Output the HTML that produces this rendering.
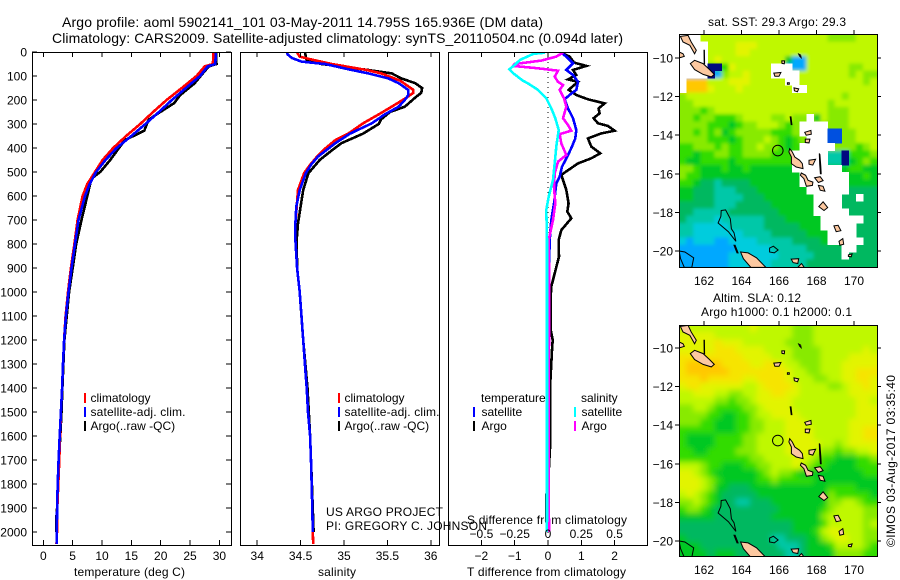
<!DOCTYPE html>
<html>
<head>
<meta charset="utf-8">
<title>Argo profile</title>
<style>
html,body{margin:0;padding:0;background:#fff;}
svg{display:block;font-family:"Liberation Sans",sans-serif;}
text{fill:#000;font-size:12px;}
</style>
</head>
<body>
<svg id="chart" xmlns="http://www.w3.org/2000/svg" width="900" height="580" viewBox="0 0 900 580">
  <defs>
    <clipPath id="clip-t"><rect x="33" y="53" width="198" height="492"/></clipPath>
    <clipPath id="clip-s"><rect x="241" y="53" width="198" height="492"/></clipPath>
    <clipPath id="clip-d"><rect x="449" y="53" width="198" height="492"/></clipPath>
    <clipPath id="clip-m1"><rect x="679" y="34" width="198" height="233"/></clipPath>
    <clipPath id="clip-m2"><rect x="679" y="325" width="198" height="231"/></clipPath>
    <filter id="blur-sst" filterUnits="userSpaceOnUse" x="640" y="0" width="260" height="300"><feGaussianBlur stdDeviation="1.8"/></filter>
    <filter id="blur-sla" filterUnits="userSpaceOnUse" x="640" y="290" width="260" height="290"><feGaussianBlur stdDeviation="3"/></filter>
  </defs>
  <text x="62" y="27" style="font-size:14px" textLength="481">Argo profile: aoml 5902141_101 03-May-2011 14.795S 165.936E (DM data)</text>
  <text x="52" y="43" style="font-size:14px" textLength="571">Climatology: CARS2009. Satellite-adjusted climatology: synTS_20110504.nc (0.094d later)</text>
  <text x="74" y="576" textLength="111">temperature (deg C)</text>
  <text x="318" y="576" textLength="38">salinity</text>
  <text x="467" y="576" textLength="159">T difference from climatology</text>
  <text x="467" y="524" textLength="160">S difference from climatology</text>
  <text x="326" y="516" textLength="117">US ARGO PROJECT</text>
  <text x="326" y="530" textLength="161">PI: GREGORY C. JOHNSON</text>
  <text x="708" y="26" textLength="138">sat. SST: 29.3 Argo: 29.3</text>
  <text x="713" y="302" textLength="88">Altim. SLA: 0.12</text>
  <text x="701" y="316" textLength="151">Argo h1000: 0.1 h2000: 0.1</text>
  <text transform="translate(895,547) rotate(-90)" textLength="172">©IMOS 03-Aug-2017 03:35:40</text>
  <g id="layer"></g>
</svg>
<script>
// ---------- profile data ----------
const tempDepths = [0,50,60,100,150,200,250,300,350,400,450,500,550,600,700,800,900,1000,1100,1200,1300,1400,1500,1600,1700,1800,1900,2000,2050];
const tempClim = [29,28.9,27.5,26.1,23.6,21,18.7,16.5,14.1,11.9,10.1,8.8,7.5,6.7,5.85,5.3,4.7,4.2,3.8,3.55,3.35,3.2,3.0,2.85,2.73,2.56,2.39,2.33,2.25];
const tempSat = [29.4,29.3,28,26.7,24.3,21.9,19.7,17.4,15,12.5,10.6,9,7.9,7.1,6,5.4,4.8,4.3,3.85,3.55,3.35,3.2,3,2.8,2.6,2.45,2.35,2.3,2.3];
const argoTempDepths = [0,50,60,100,130,150,180,213,255,283,328,367,400,450,500,528,600,700,800,900,1000,1200,1400,1500,1600,1700,1800,1900,1950,2000];
const argoTemp = [29.4,29.5,28.2,26.8,25.8,24.8,23.3,22.3,19.6,17.9,17.2,13.9,12.9,11.4,9.7,8.2,7.5,6.5,5.6,5,4.4,3.6,3.25,3.1,2.9,2.65,2.5,2.35,2.2,2.25];

const salDepths = [0,19,30,50,75,89,120,158,170,190,228,260,297,340,367,400,436,470,505,575,644,714,783,900,1000,1100,1200,1300,1400,1500,1600,1700,1900,2000,2050];
const salClim = [34.455,34.49,34.61,34.86,35.26,35.43,35.65,35.80,35.80,35.72,35.55,35.40,35.22,35.05,34.90,34.79,34.69,34.61,34.54,34.47,34.455,34.44,34.44,34.46,34.49,34.51,34.53,34.55,34.57,34.585,34.61,34.62,34.635,34.64,34.645];
const argoSalDepths = [0,19,35,50,75,89,110,130,150,170,190,228,250,280,300,340,380,410,450,505,575,644,714,783,900,1000,1200,1400,1600,1800,2000];
const argoSal = [34.55,34.56,34.57,34.74,35.28,35.55,35.66,35.82,35.90,35.89,35.82,35.70,35.53,35.43,35.40,35.22,34.97,34.86,34.72,34.59,34.53,34.50,34.47,34.455,34.46,34.49,34.53,34.58,34.61,34.63,34.65];
const satSalDepths = [0,10,25,40,50,75,89,110,130,158,180,200,228,260,297,340,380,436,470,505,575,644,714,783,900,1000,1100,1200,1300,1400,1500,1600,1700,1900,2000];
const satSal = [34.34,34.35,34.40,34.51,34.78,35.09,35.28,35.51,35.63,35.74,35.74,35.70,35.63,35.47,35.32,35.07,34.90,34.70,34.62,34.56,34.49,34.45,34.44,34.44,34.46,34.49,34.51,34.53,34.55,34.57,34.585,34.61,34.62,34.635,34.64];

const dArgoTDepths = [3,19,44,58,75,96,114,124,158,179,197,214,235,256,276,297,308,328,339,360,394,422,443,464,512,575,631,665,693,742,783,853,922,978,1019,1158,1200,1242,1400,1650,1750,1850,1950,2000];
const dArgoT = [.40,.65,.78,1.15,.75,.85,.60,.90,.62,.85,1.20,1.70,1.52,1.55,1.37,1.50,1.80,2.00,1.60,1.20,1.30,1.57,1.30,.90,.40,.55,.62,.58,.70,.40,.32,.33,.20,.10,.08,.08,.14,.12,.06,.06,.02,-.05,-.05,0];
const dSatTDepths = [3,19,47,75,96,124,158,179,197,235,276,325,360,394,436,478,519,547,631,700,783,900,1000,1200,1400,2000];
const dSatT = [.40,.55,.75,.55,.75,.90,.85,.65,.50,.60,.75,.85,.82,.72,.58,.42,.35,.25,.18,.10,.05,.03,.02,.02,0,0];
const dSatSDepths = [3,8,33,54,72,89,119,131,158,193,235,276,325,394,464,533,603,658,728,783,1400,1950,2000];
const dSatS = [-.025,-.11,-.21,-.25,-.29,-.26,-.19,-.15,-.075,-.0125,.025,.055,.08,.0625,.05,.0375,.005,-.0125,-.01,-.0075,-.0075,-.0075,-.01];
const dArgoSDepths = [3,19,36,50,58,68,78,103,124,138,158,193,228,276,304,328,342,381,429,457,506,561,631,700,783,1000,1400,1900,2000];
const dArgoS = [.1125,.0625,-.05,-.25,-.2625,-.075,.075,.05,.075,.1125,.0875,.12,.1375,.1125,.15,.175,.0875,.1,.1375,.075,.05,.045,.055,.0375,.005,.01,.005,.005,.01];

// ---------- tick labels ----------
const depthTicks = [0,100,200,300,400,500,600,700,800,900,1000,1100,1200,1300,1400,1500,1600,1700,1800,1900,2000];
const tempTicks = [0,5,10,15,20,25,30];
const salTicks = [34,34.5,35,35.5,36];
const dTTicks = [-2,-1,0,1,2];
const dSTicks = [-0.5,-0.25,0,0.25,0.5];
const lonTicks = [162,164,166,168,170];
const latTicks = [-10,-12,-14,-16,-18,-20];

// ---------- map data (colour class per cell) ----------
const sstRows = [
"wwwjjjjjjjjjjjjjjjjjjiiiijjj",
"wwwwjjjjkkkjjjjjjjjjjjjjjjjj",
"wwwwjjjjkkjjjjjjjjjjjjjjjjjj",
"wwwwjkjjjjjjjjjgccjjjjjjjjjj",
"wwwwnnhkjjjjjwwwccjjjjjjiijj",
"wwwwncijjkjjjwwwwjjjjjjjijii",
"wmmmjjjkkkjjjjjwwjjjjjjjjjij",
"wmmmkjjjkjjjjjjjwwjjjjjjjjjj",
"ijjjjjjjjjjjjjjjjjjjjjjijjjj",
"iijjjjjjjjjjjjjjjjjjjijjjjjj",
"iiihijjjjjjjjjjjjjjjjiiijjjj",
"iihiihhhijjjjiijiiwgjiiijjjj",
"iiiihhhghiijjjihiwwwwiiijjjj",
"iihihighiiiiihhhiwwwwbbiijjj",
"iiiihhhghiiijihghiwwwbbiijjj",
"hhiiihihhiijiihghwwwwwiiihij",
"hhghhiihhiiiihhhwwwwweenhhhi",
"hgghhhhghhhhhhhhwwwwweenghih",
"iihggghgghggggggwwwwwwwghhgg",
"ihhggggggggggggggwwwwwwwgghg",
"hhgffeffffgggggggwwwwwwwgggg",
"ggfffeeefffgggggggwwwwwwffff",
"ggfffeeeefffgggggggwwwwffwff",
"fffffeeefffffggggggwwwwfffff",
"ffeeeeefffffffgggggwwwwwffff",
"feeeedeeeeeefffgggggwwwwwwff",
"eedddddeeeeefffffgggwwwwwfff",
"eedddddddeeeefffffgggwwwwfff",
"dcdddccddddeeeeeffffgwwwwwff",
"ccccccccdddddeeeeefffffwwfff",
"cccccccdddddddeeeeeffffwffff",
"cccccccddddddeeeeeffffffffff"
];
const slaRows = [
"jjjjjjjjjjkjjjjjiiijjjjjjjjj",
"kkkkkjjjjjjjjjjjiiijjjjjjjjj",
"kkkkklkkkjjjjjjiiiijjjjjjjjj",
"kkkkklllkkkkjjjjiiiijjjjjjkj",
"lllllllllkkkkjjjiiiijjjjkkkk",
"lmmmmmllllkkllkjjiiijjjkkkkk",
"lmmmmmmllllllllkjjiijjjkklll",
"lllmlllllkkllllkjjjiijjkkllk",
"kllkkkkkkjjkllllkjjjjiijkklk",
"jjkkkjjiijjkkllkkjjjjjjjkkkk",
"jjjjjiihiijkkkkkjjjjjjjjjkkj",
"iijjihhhhiijkkkkjjjjjjjjjkkk",
"iiiihhgghhijjkkkkjjjjjjjjkkk",
"iiihhggghhiijjjkkkjjjjjjkkkk",
"hhhhhggghhiijjjkkkkjjjjjkkll",
"hgggghhhhiijjjjkkkkjjjjjkkll",
"hgggghhhhiijjjjkkkkkjjijkkkk",
"hhgghhhhiiijjjjkkkkjiihiijjk",
"hhhhhhhhhhiijjjjkkjihhggghhi",
"jjjihhggghhiijjjkjihhgggghhh",
"kkjihgggggghijiihggggggggghh",
"kkkjihggggghhihhhhhggggggggg",
"kkkjiggfffggggggggggghhhhggg",
"jkjihgfffffggggggggggihhhhhg",
"iijihgffeefffggggggggiijjihh",
"hiihgfffffffffgggggghijjjjii",
"gggggffffffffgggggggijjjjjii",
"ffffffffffffffffgggghjjjjjij",
"ffffffffffffffffggghjkkjjjii",
"gffffffffffffeefffggijkkjjii",
"gggfffffffffffeeefggghjjjjih",
"ggggfgggfffffffeefggggiiiihh"
];
const cellColors = {n:"#000a80",b:"#0050e0",c:"#00a8ff",d:"#00ccdd",e:"#00c8a8",f:"#00b860",g:"#00c820",h:"#30dc00",i:"#88ea00",j:"#bff800",k:"#e2f400",l:"#f6e400",m:"#ffc800",w:"#ffffff"};
const crispClasses = "wnb";

// island outlines: lon, lat pairs
const landShapes = [
[160.74,-8.88,161.15,-8.83,161.32,-9.17,161.59,-9.6,161.5,-9.78,161.24,-9.34,160.88,-9.17],
[160.67,-9.69,160.88,-9.78,160.95,-9.91,160.74,-9.98,160.67,-9.95],
[161.27,-10.29,161.5,-10.12,161.95,-10.29,162.3,-10.6,162.55,-10.85,162.39,-10.98,161.95,-10.85,161.5,-10.6],
[162,-9.6,162.02,-9.6,162.03,-10.3,162.01,-10.3],
[166.57,-14.7,166.71,-14.87,166.84,-15.13,167.1,-15.3,167.24,-15.47,167.28,-15.73,166.92,-15.65,166.66,-15.47,166.66,-15.13,166.53,-14.87],
[167.19,-15.96,167.42,-16.08,167.55,-16.34,167.81,-16.43,167.78,-16.6,167.46,-16.65,167.33,-16.25,167.14,-16.08],
[168.15,-14.95,168.18,-15.0,168.23,-15.6,168.25,-16,168.21,-16,168.17,-15.5],
[167.6,-15.3,167.95,-15.25,167.8,-15.55,167.6,-15.5],
[167.9,-16.2,168.2,-16.15,168.35,-16.35,168.1,-16.45],
[168.1,-16.6,168.35,-16.65,168.45,-16.9,168.2,-16.85],
[168.12,-17.7,168.35,-17.45,168.6,-17.75,168.4,-17.9],
[168.93,-18.7,169.15,-18.67,169.3,-18.95,169.05,-19.0],
[169.2,-19.5,169.4,-19.36,169.45,-19.65,169.25,-19.7],
[169.7,-20.2,169.9,-20.15,169.85,-20.3,169.7,-20.28],
[167.37,-13.85,167.7,-13.75,167.72,-13.95,167.45,-14.0],
[167.4,-14.2,167.65,-14.2,167.6,-14.4,167.4,-14.38],
[166.6,-13.05,166.64,-13.05,166.69,-13.45,166.65,-13.45],
[165.72,-10.78,166.1,-10.75,166.0,-10.95,165.78,-10.95],
[166.15,-10.15,166.3,-10.15,166.28,-10.3,166.16,-10.28],
[166.8,-11.55,167.05,-11.6,166.98,-11.75,166.82,-11.7],
[166.45,-11.28,166.55,-11.28,166.55,-11.36,166.45,-11.36],
[167.05,-9.8,167.15,-9.85,167.18,-9.98,167.1,-9.9],
[163.6,-19.7,163.66,-19.7,163.82,-20.1,163.76,-20.1],
[163.95,-20.05,164.35,-20.1,164.8,-20.35,165.3,-20.85,164.5,-20.85,164.1,-20.4],
[166.65,-20.42,167.05,-20.4,167.0,-20.65,166.75,-20.6],
[167.0,-20.85,167.2,-20.65,167.35,-20.85]
];
const reefShapes = [
[162.92,-17.9,163.15,-17.87,163.4,-18.33,163.46,-18.85,163.6,-19.05,163.7,-19.5,163.3,-19.0,162.75,-18.55,162.9,-18.2],
[165.5,-19.85,165.7,-19.75,165.95,-19.95,165.75,-20.1,165.5,-20.05],
[160.67,-20.0,160.98,-20.05,161.45,-20.35,161.35,-20.85,160.95,-20.85,160.75,-20.4]
];
const argoLon = 165.936;
const argoLat = -14.795;

// ---------- axis functions ----------
const NS = "http://www.w3.org/2000/svg";
const layer = document.getElementById("layer");
function depthY(d){ return 52 + 0.24 * d; }
function tempX(v){ return 43.3 + 5.87 * v; }
function salX(v){ return 344 + 86.8 * (v - 35); }
function dTX(v){ return 548 + 33.3 * v; }
function dSX(v){ return 548 + 133.2 * v; }
function lonX(v){ return 704 + 18.75 * (v - 162); }
function lat1Y(v){ return 58 + 19.3 * (-10 - v); }
function lat2Y(v){ return 348 + 19.3 * (-10 - v); }

function mk(tag, attrs, parent){
  const el = document.createElementNS(NS, tag);
  for (const k in attrs) el.setAttribute(k, attrs[k]);
  (parent || layer).appendChild(el);
  return el;
}
function tick(x1,y1,x2,y2,name,parent){
  const el = mk("line",{x1:x1,y1:y1,x2:x2,y2:y2,stroke:"#000","stroke-width":1,"shape-rendering":"crispEdges"},parent);
  
  
}
function label(x,y,s,anchor,name,parent,len){
  const el = mk("text",{x:x,y:y,"text-anchor":anchor},parent);
  if (len) el.setAttribute("textLength", len);
  el.textContent = s;
  
  
}
function frame(x,y,w,h,name){
  const el = mk("rect",{x:x+0.5,y:y+0.5,width:w,height:h,fill:"none",stroke:"#000","stroke-width":1.4,"shape-rendering":"crispEdges"});
  
  
}
function profile(xf,vals,deps,color,clip,name){
  const pts = vals.map((v,i)=>xf(v).toFixed(1)+","+depthY(deps[i]).toFixed(1)).join(" ");
  const el = mk("polyline",{points:pts,fill:"none",stroke:color,"stroke-width":2.6,"clip-path":"url(#"+clip+")","shape-rendering":"crispEdges"});
  
  
}
function legendBar(x,y,color,name){
  const el = mk("rect",{x:x,y:y,width:2,height:10,fill:color});
  
  
}
function minusText(v){ return String(v).replace("-","\u2212"); }

// ---------- panel 1: temperature ----------
profile(tempX,argoTemp,argoTempDepths,"#000","clip-t","argo-temperature-line");
profile(tempX,tempClim,tempDepths,"#f00","clip-t","climatology-temperature-line");
profile(tempX,tempSat,tempDepths,"#00f","clip-t","satellite-temperature-line");
frame(32,52,199,493,"temperature-panel-frame");
depthTicks.forEach(d=>{
  tick(32,depthY(d),37,depthY(d),"depth-tick-left");
  tick(226,depthY(d),231,depthY(d),"depth-tick-right");
  label(27,depthY(d)+4.5,String(d),"end","depth-tick-label");
});
tempTicks.forEach(v=>{
  tick(tempX(v),52,tempX(v),57,"temperature-tick-top");
  tick(tempX(v),540,tempX(v),545,"temperature-tick-bottom");
  label(tempX(v),560,String(v),"middle","temperature-tick-label");
});

// ---------- panel 2: salinity ----------
profile(salX,argoSal,argoSalDepths,"#000","clip-s","argo-salinity-line");
profile(salX,salClim,salDepths,"#f00","clip-s","climatology-salinity-line");
profile(salX,satSal,satSalDepths,"#00f","clip-s","satellite-salinity-line");
frame(240,52,199,493,"salinity-panel-frame");
salTicks.forEach(v=>{
  tick(salX(v),52,salX(v),57,"salinity-tick-top");
  tick(salX(v),540,salX(v),545,"salinity-tick-bottom");
  label(salX(v),560,String(v),"middle","salinity-tick-label");
});

// ---------- panel 3: differences ----------
const zero = mk("line",{x1:dTX(0),y1:52,x2:dTX(0),y2:545,stroke:"#000","stroke-width":1,"stroke-dasharray":"1 4","shape-rendering":"crispEdges"});


profile(dTX,dArgoT,dArgoTDepths,"#000","clip-d","argo-t-difference-line");
profile(dTX,dSatT,dSatTDepths,"#00f","clip-d","satellite-t-difference-line");
profile(dSX,dArgoS,dArgoSDepths,"#f0f","clip-d","argo-s-difference-line");
profile(dSX,dSatS,dSatSDepths,"#0ff","clip-d","satellite-s-difference-line");
frame(448,52,199,493,"difference-panel-frame");
dTTicks.forEach(v=>{
  tick(dTX(v),52,dTX(v),57,"t-difference-tick-top");
  tick(dTX(v),540,dTX(v),545,"t-difference-tick-bottom");
  label(dTX(v),560,minusText(v),"middle","t-difference-tick-label");
});
dSTicks.forEach(v=>{
  label(dSX(v),538,minusText(v),"middle","s-difference-tick-label");
});

// ---------- legends ----------
[[84,90.5],[338,344.5]].forEach(p=>{
  legendBar(p[0],393,"#f00","legend-climatology-swatch");
  legendBar(p[0],407,"#00f","legend-satellite-swatch");
  legendBar(p[0],421,"#000","legend-argo-swatch");
  label(p[1],402,"climatology","start","legend-climatology-label");
  label(p[1],416,"satellite-adj. clim.","start","legend-satellite-label",undefined,95);
  label(p[1],430,"Argo(..raw -QC)","start","legend-argo-label");
});
label(481,402,"temperature","start","legend-temperature-heading");
label(581,402,"salinity","start","legend-salinity-heading");
legendBar(473,407,"#00f","legend-t-satellite-swatch");
legendBar(473,421,"#000","legend-t-argo-swatch");
legendBar(574,407,"#0ff","legend-s-satellite-swatch");
legendBar(574,421,"#f0f","legend-s-argo-swatch");
label(481.5,416,"satellite","start","legend-t-satellite-label");
label(481.5,430,"Argo","start","legend-t-argo-label");
label(581.5,416,"satellite","start","legend-s-satellite-label");
label(581.5,430,"Argo","start","legend-s-argo-label");

// ---------- maps ----------
const lonMin = 160.67, lonMax = 171.23, latTop = -8.78, latBot = -20.8;
function underColor(row,c){
  // colour shown beneath a crisp (masked) cell in the smoothed layer: nearest field cell in the row
  for (let o=1;o<row.length;o++){
    if (c-o>=0 && crispClasses.indexOf(row[c-o])<0) return row[c-o];
    if (c+o<row.length && crispClasses.indexOf(row[c+o])<0) return row[c+o];
  }
  return "j";
}
function drawMap(rows, latY, clip, prefix, frameTop, frameH, filterId){
  const g = mk("g",{"clip-path":"url(#"+clip+")"});
  
  
  const soft = mk("g",{filter:"url(#"+filterId+")"},g);
  
  
  const crisp = mk("g",{"shape-rendering":"crispEdges"},g);
  
  
  const nr = rows.length;
  rows.forEach((row,r)=>{
    const nc = row.length;
    for (let c=0;c<nc;c++){
      const lo0 = lonMin + (lonMax-lonMin)*c/nc, lo1 = lonMin + (lonMax-lonMin)*(c+1)/nc;
      const la0 = latTop + (latBot-latTop)*r/nr, la1 = latTop + (latBot-latTop)*(r+1)/nr;
      let x0 = lonX(lo0), x1 = lonX(lo1), y0 = latY(la0), y1 = latY(la1);
      const isCrisp = crispClasses.indexOf(row[c]) >= 0;
      // soft-layer cell: edge cells run past the frame so the smoothing does not fade at the border
      const sx0 = c===0 ? x0-12 : x0, sx1 = c===nc-1 ? x1+12 : x1;
      const sy0 = r===0 ? y0-12 : y0, sy1 = r===nr-1 ? y1+12 : y1;
      const cell = mk("rect",{x:sx0.toFixed(2),y:sy0.toFixed(2),width:(sx1-sx0+0.4).toFixed(2),height:(sy1-sy0+0.4).toFixed(2),fill:cellColors[isCrisp ? underColor(row,c) : row[c]]},soft);
      
      
      if (isCrisp){
        const top = mk("rect",{x:x0.toFixed(2),y:y0.toFixed(2),width:(x1-x0+0.4).toFixed(2),height:(y1-y0+0.4).toFixed(2),fill:cellColors[row[c]]},crisp);
        
        
      }
    }
  });
  const toPts = s => { const o=[]; for(let i=0;i<s.length;i+=2) o.push(lonX(s[i]).toFixed(1)+","+latY(s[i+1]).toFixed(1)); return o.join(" "); };
  reefShapes.forEach(s=>{
    const el = mk("polygon",{points:toPts(s),fill:"none",stroke:"#000","stroke-width":1},g);
    
    
  });
  landShapes.forEach(s=>{
    const el = mk("polygon",{points:toPts(s),fill:"#fcc8a0",stroke:"#000","stroke-width":1},g);
    
    
  });
  const marker = mk("circle",{cx:lonX(argoLon),cy:latY(argoLat),r:5.3,fill:"none",stroke:"#000","stroke-width":1},g);
  
  
  frame(679,frameTop,198,frameH,prefix + "-map-frame");
  lonTicks.forEach(v=>{
    tick(lonX(v),frameTop-4,lonX(v),frameTop,prefix + "-longitude-tick");
    label(lonX(v),frameTop+frameH+18,String(v),"middle",prefix + "-longitude-label");
  });
  latTicks.forEach(v=>{
    tick(675,latY(v),679,latY(v),prefix + "-latitude-tick-left");
    tick(877,latY(v),881,latY(v),prefix + "-latitude-tick-right");
    label(673,latY(v)+4.5,minusText(v),"end",prefix + "-latitude-label");
  });
}
drawMap(sstRows, lat1Y, "clip-m1", "sst", 34, 233, "blur-sst");
drawMap(slaRows, lat2Y, "clip-m2", "sla", 325, 231, "blur-sla");
</script>
</body>
</html>
